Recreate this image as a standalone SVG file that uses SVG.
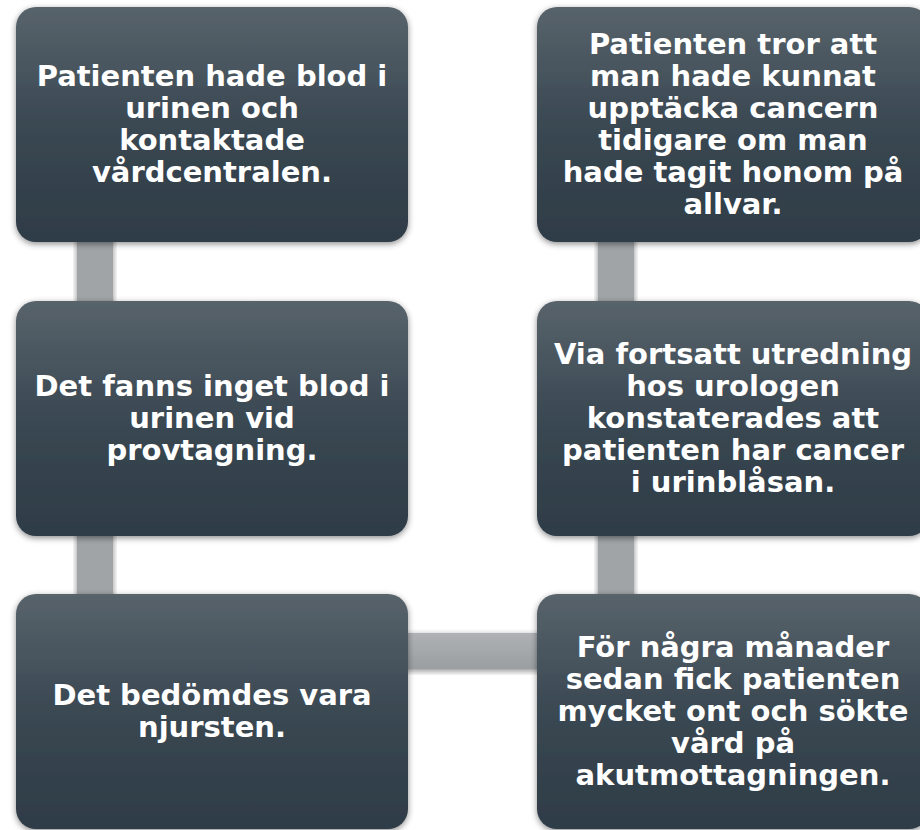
<svg xmlns="http://www.w3.org/2000/svg" width="920" height="830" viewBox="0 0 920 830">
<defs>
<linearGradient id="boxg" x1="0" y1="0" x2="0" y2="1">
<stop offset="0" stop-color="#58636b"/>
<stop offset="0.5" stop-color="#3a4852"/>
<stop offset="1" stop-color="#2e3c46"/>
</linearGradient>
<linearGradient id="vg" x1="0" y1="0" x2="1" y2="0">
<stop offset="0" stop-color="#a0a4a7"/>
<stop offset="1" stop-color="#a0a4a7"/>
</linearGradient>
<linearGradient id="hg" x1="0" y1="0" x2="0" y2="1">
<stop offset="0" stop-color="#aeb2b4"/>
<stop offset="1" stop-color="#9a9ea1"/>
</linearGradient>
<filter id="sh" x="-10%" y="-10%" width="120%" height="125%">
<feDropShadow dx="0" dy="2" stdDeviation="3" flood-color="#000" flood-opacity="0.45"/>
</filter>
</defs>
<style>
.box{fill:url(#boxg);filter:url(#sh)}
.t{font-family:"DejaVu Sans","Verdana",sans-serif;font-weight:bold;font-size:29px;fill:#ffffff;text-anchor:middle}
</style>
<g id="connectors">
<rect x="77" y="124" width="36" height="588" fill="url(#vg)" filter="url(#sh)"/>
<rect x="598" y="124" width="36" height="588" fill="url(#vg)" filter="url(#sh)"/>
<rect x="212" y="633" width="521" height="36" fill="url(#hg)" filter="url(#sh)"/>
</g>
<g id="n1">
<rect class="box" x="16" y="7" width="392" height="235" rx="20"/>
<text class="t" x="212" y="86">Patienten hade blod i</text>
<text class="t" x="212" y="118">urinen och</text>
<text class="t" x="212" y="150">kontaktade</text>
<text class="t" x="212" y="182">vårdcentralen.</text>
</g>
<g id="n2">
<rect class="box" x="16" y="301" width="392" height="235" rx="20"/>
<text class="t" x="212" y="396">Det fanns inget blod i</text>
<text class="t" x="212" y="428">urinen vid</text>
<text class="t" x="212" y="460">provtagning.</text>
</g>
<g id="n3">
<rect class="box" x="16" y="594" width="392" height="235" rx="20"/>
<text class="t" x="212" y="705">Det bedömdes vara</text>
<text class="t" x="212" y="737">njursten.</text>
</g>
<g id="n4">
<rect class="box" x="537" y="594" width="392" height="235" rx="20"/>
<text class="t" x="733" y="657">För några månader</text>
<text class="t" x="733" y="689">sedan fick patienten</text>
<text class="t" x="733" y="721">mycket ont och sökte</text>
<text class="t" x="733" y="753">vård på</text>
<text class="t" x="733" y="785">akutmottagningen.</text>
</g>
<g id="n5">
<rect class="box" x="537" y="301" width="392" height="235" rx="20"/>
<text class="t" x="733" y="364">Via fortsatt utredning</text>
<text class="t" x="733" y="396">hos urologen</text>
<text class="t" x="733" y="428">konstaterades att</text>
<text class="t" x="733" y="460">patienten har cancer</text>
<text class="t" x="733" y="492">i urinblåsan.</text>
</g>
<g id="n6">
<rect class="box" x="537" y="7" width="392" height="235" rx="20"/>
<text class="t" x="733" y="54">Patienten tror att</text>
<text class="t" x="733" y="86">man hade kunnat</text>
<text class="t" x="733" y="118">upptäcka cancern</text>
<text class="t" x="733" y="150">tidigare om man</text>
<text class="t" x="733" y="182">hade tagit honom på</text>
<text class="t" x="733" y="214">allvar.</text>
</g>
</svg>
